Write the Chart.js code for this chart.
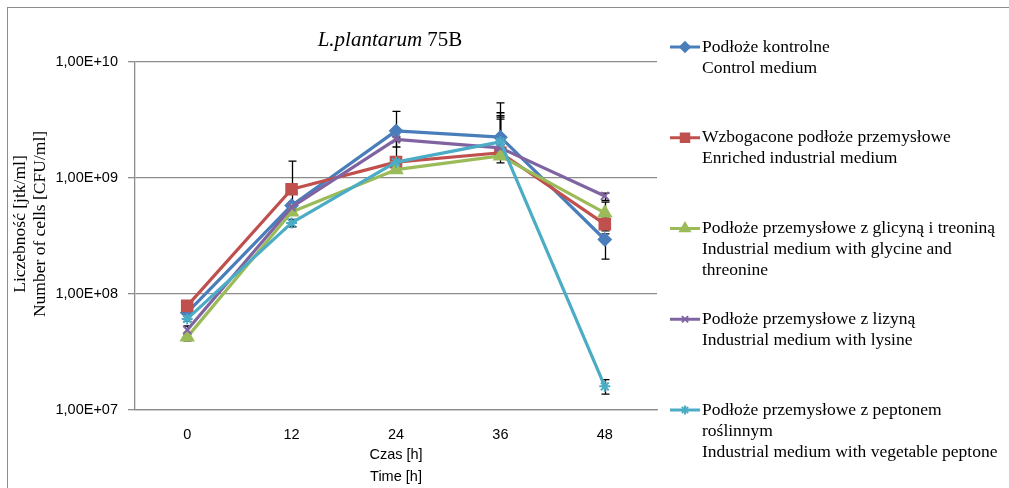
<!DOCTYPE html>
<html>
<head>
<meta charset="utf-8">
<script src="https://cdn.jsdelivr.net/npm/chart.js@4.4.1/dist/chart.umd.min.js"></script>
<style>
  html, body { margin: 0; padding: 0; background: #fff; }
  #wrap { width: 1009px; height: 488px; position: relative; }
</style>
</head>
<body>
<div id="wrap"><canvas id="chart" width="1009" height="488"></canvas></div>
<script>
// dane
const categories = ['0', '12', '24', '36', '48'];
const yTickValues = [1e7, 1e8, 1e9, 1e10];

const control = [6.9e7, 5.8e8, 2.55e9, 2.25e9, 2.95e8];
const enriched = [7.9e7, 8.0e8, 1.37e9, 1.65e9, 4.0e8];
const glycine = [4.25e7, 5.1e8, 1.18e9, 1.55e9, 5.0e8];
const lysine = [4.9e7, 5.6e8, 2.15e9, 1.82e9, 7.0e8];
const peptone = [6.1e7, 4.1e8, 1.37e9, 2.05e9, 1.6e7];

// słupki błędów (+ / -)
const controlErrPlus = [4e6, 4e7, 1.2e9, 2.2e9, 3.5e7];
const controlErrMinus = [4e6, 4e7, 3e8, 3e8, 9.5e7];
const enrichedErrPlus = [4e6, 6e8, 7e8, 1.7e9, 3e7];
const enrichedErrMinus = [4e6, 1.8e8, 1e8, 2e8, 5e7];
const glycineErrPlus = [3e6, 3e7, 1e8, 2.1e9, 1.2e8];
const glycineErrMinus = [3e6, 3e7, 8e7, 2e8, 5e7];
const lysineErrPlus = [4e6, 4e7, 4e8, 1.4e9, 4e7];
const lysineErrMinus = [4e6, 4e7, 3e8, 2e8, 6e7];
const peptoneErrPlus = [3e6, 3e7, 1e8, 1.4e9, 2.3e6];
const peptoneErrMinus = [3e6, 3e7, 8e7, 2e8, 2.3e6];

const seriesLabels = [
    ['Podłoże kontrolne', 'Control medium'],
    ['Wzbogacone podłoże przemysłowe', 'Enriched industrial medium'],
    ['Podłoże przemysłowe z glicyną i treoniną', 'Industrial medium with glycine and', 'threonine'],
    ['Podłoże przemysłowe z lizyną', 'Industrial medium with lysine'],
    ['Podłoże przemysłowe z peptonem', 'roślinnym', 'Industrial medium with vegetable peptone']
];

const serif = '"Liberation Serif", "Times New Roman", serif';
const sans = '"Liberation Sans", Arial, sans-serif';
const gridColor = '#8c8c8c';

Chart.defaults.font.family = sans;
Chart.defaults.color = '#000';

function makeSeries(i, data, plus, minus, color, style, radius) {
    return {
        label: seriesLabels[i][0],
        data: data,
        errPlus: plus,
        errMinus: minus,
        borderColor: color,
        backgroundColor: color,
        pointBackgroundColor: color,
        pointBorderColor: color,
        pointStyle: style,
        pointRadius: radius,
        pointBorderWidth: 2,
        borderWidth: 3.2,
        borderJoinStyle: 'round',
        tension: 0,
        order: 4 - i
    };
}

// rysowanie ramki, tytułu, tytułu osi Y i legendy
const decorations = {
    id: 'decorations',
    beforeDraw(chart) {
        const ctx = chart.ctx;
        ctx.save();
        ctx.fillStyle = '#fff';
        ctx.fillRect(0, 0, chart.width, chart.height);
        ctx.strokeStyle = gridColor;
        ctx.lineWidth = 1;
        ctx.strokeRect(7.5, 7.5, chart.width + 10, chart.height + 10);
        ctx.restore();
    },
    afterDraw(chart) {
        const ctx = chart.ctx;
        ctx.save();
        ctx.fillStyle = '#000';
        ctx.textBaseline = 'middle';

        // tytuł
        const part1 = 'L.plantarum', part2 = ' 75B';
        ctx.font = 'italic 21px ' + serif;
        const w1 = ctx.measureText(part1).width;
        ctx.font = '21px ' + serif;
        const w2 = ctx.measureText(part2).width;
        let tx = 390 - (w1 + w2) / 2;
        ctx.textAlign = 'left';
        ctx.font = 'italic 21px ' + serif;
        ctx.fillText(part1, tx, 40);
        ctx.font = '21px ' + serif;
        ctx.fillText(part2, tx + w1, 40);

        // tytuł osi Y
        ctx.font = '17.5px ' + serif;
        ctx.textAlign = 'center';
        const yTitle = ['Liczebność [jtk/ml]', 'Number of cells [CFU/ml]'];
        yTitle.forEach((t, k) => {
            ctx.save();
            ctx.translate(20 + k * 20, 224);
            ctx.rotate(-Math.PI / 2);
            ctx.fillText(t, 0, 0);
            ctx.restore();
        });

        // legenda
        ctx.textAlign = 'left';
        chart.data.datasets.forEach((ds, i) => {
            const y = 47 + i * 90.75;
            ctx.strokeStyle = ds.borderColor;
            ctx.lineWidth = 3;
            ctx.beginPath();
            ctx.moveTo(670, y);
            ctx.lineTo(700, y);
            ctx.stroke();
            ctx.fillStyle = ds.borderColor;
            ctx.lineWidth = 2;
            Chart.helpers.drawPoint(ctx, {
                pointStyle: ds.pointStyle,
                radius: ds.pointRadius * 0.8,
                rotation: 0,
                borderWidth: 2
            }, 685, y);
            ctx.fillStyle = '#000';
            ctx.font = '17.5px ' + serif;
            seriesLabels[i].forEach((line, k) => {
                ctx.fillText(line, 702, y + k * 21);
            });
        });
        ctx.restore();
    }
};

// słupki błędów
const errorBars = {
    id: 'errorBars',
    beforeDatasetsDraw(chart) {
        const ctx = chart.ctx;
        const xs = chart.scales.x, ys = chart.scales.y;
        ctx.save();
        ctx.strokeStyle = '#000';
        ctx.lineWidth = 1.3;
        chart.data.datasets.forEach(ds => {
            ds.data.forEach((v, j) => {
                const px = Math.round(xs.getPixelForValue(j)) + 0.5;
                const top = ys.getPixelForValue(v + ds.errPlus[j]);
                const bot = ys.getPixelForValue(v - ds.errMinus[j]);
                ctx.beginPath();
                ctx.moveTo(px, top);
                ctx.lineTo(px, bot);
                ctx.moveTo(px - 4, top);
                ctx.lineTo(px + 4, top);
                ctx.moveTo(px - 4, bot);
                ctx.lineTo(px + 4, bot);
                ctx.stroke();
            });
        });
        ctx.restore();
    }
};

function formatExp(v) {
    const s = v.toExponential(2).replace('.', ',').toUpperCase();
    return s.replace(/E([+-])(\d)$/, 'E$10$2');
}

new Chart(document.getElementById('chart'), {
    type: 'line',
    data: {
        labels: categories,
        datasets: [
            makeSeries(0, control, controlErrPlus, controlErrMinus, '#4a7ebb', 'rectRot', 6),
            makeSeries(1, enriched, enrichedErrPlus, enrichedErrMinus, '#c0504d', 'rect', 7.5),
            makeSeries(2, glycine, glycineErrPlus, glycineErrMinus, '#9bbb59', 'triangle', 7),
            makeSeries(3, lysine, lysineErrPlus, lysineErrMinus, '#8064a2', 'crossRot', 5.5),
            makeSeries(4, peptone, peptoneErrPlus, peptoneErrMinus, '#4bacc6', 'star', 5.5)
        ]
    },
    options: {
        responsive: false,
        animation: false,
        layout: { padding: { top: 62, right: 352, bottom: 0, left: 0 } },
        plugins: {
            legend: { display: false },
            title: { display: false },
            tooltip: { enabled: false }
        },
        scales: {
            x: {
                offset: true,
                grid: { display: false, drawTicks: false },
                border: { display: true, color: gridColor, width: 1.3 },
                ticks: { padding: 16, font: { size: 14.5 }, color: '#000' },
                title: {
                    display: true,
                    text: ['Czas [h]', 'Time [h]'],
                    font: { size: 14.5, lineHeight: '22px' },
                    padding: { top: 0, bottom: 0 },
                    color: '#000'
                },
                afterFit(scale) { scale.height = 78; }
            },
            y: {
                type: 'logarithmic',
                min: 1e7,
                max: 1e10,
                afterBuildTicks(scale) {
                    scale.ticks = yTickValues.map(v => ({ value: v }));
                },
                grid: { color: gridColor, lineWidth: 1.3, tickLength: 7, tickColor: gridColor },
                border: { display: true, color: gridColor, width: 1.3 },
                ticks: {
                    padding: 10,
                    font: { size: 14.5 },
                    color: '#000',
                    callback: v => formatExp(v)
                },
                afterFit(scale) { scale.width = 135; }
            }
        }
    },
    plugins: [decorations, errorBars]
});
</script>
</body>
</html>
